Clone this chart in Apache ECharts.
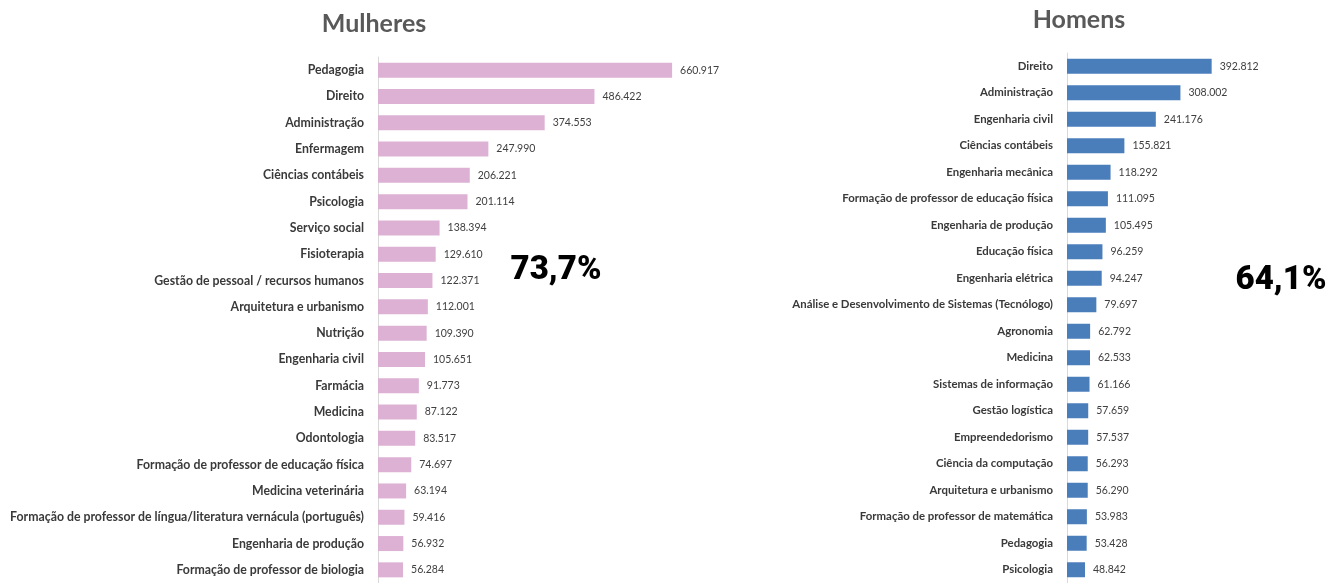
<!DOCTYPE html>
<html>
<head>
<meta charset="utf-8">
<script src="https://cdn.jsdelivr.net/npm/echarts@6/dist/echarts.min.js"></script>
<style>
  html, body { margin: 0; padding: 0; background: #fff; }
  #main { width: 1338px; height: 583px; }
</style>
</head>
<body>
<div id="main"></div>
<script>
// Mulheres
var cursosMulheres = ['Pedagogia', 'Direito', 'Administração', 'Enfermagem', 'Ciências contábeis',
    'Psicologia', 'Serviço social', 'Fisioterapia', 'Gestão de pessoal / recursos humanos',
    'Arquitetura e urbanismo', 'Nutrição', 'Engenharia civil', 'Farmácia', 'Medicina', 'Odontologia',
    'Formação de professor de educação física', 'Medicina veterinária',
    'Formação de professor de língua/literatura vernácula (português)', 'Engenharia de produção',
    'Formação de professor de biologia'];
var valoresMulheres = [660917, 486422, 374553, 247990, 206221, 201114, 138394, 129610, 122371, 112001,
    109390, 105651, 91773, 87122, 83517, 74697, 63194, 59416, 56932, 56284];

// Homens
var cursosHomens = ['Direito', 'Administração', 'Engenharia civil', 'Ciências contábeis', 'Engenharia mecânica',
    'Formação de professor de educação física', 'Engenharia de produção', 'Educação física',
    'Engenharia elétrica', 'Análise e Desenvolvimento de Sistemas (Tecnólogo)', 'Agronomia', 'Medicina',
    'Sistemas de informação', 'Gestão logística', 'Empreendedorismo', 'Ciência da computação',
    'Arquitetura e urbanismo', 'Formação de professor de matemática', 'Pedagogia', 'Psicologia'];
var valoresHomens = [392812, 308002, 241176, 155821, 118292, 111095, 105495, 96259, 94247, 79697,
    62792, 62533, 61166, 57659, 57537, 56293, 56290, 53983, 53428, 48842];

var titulos = ['Mulheres', 'Homens'];
var percentuais = ['73,7%', '64,1%'];

var fonte = 'Lato, "Open Sans", sans-serif';

function formata(v) {
    return String(v).replace(/\B(?=(\d{3})+(?!\d))/g, '.');
}

function eixoY(cats, idx, tam) {
    return {
        type: 'category', gridIndex: idx, data: cats, inverse: true,
        axisLine: { show: true, lineStyle: { color: '#d9d9d9', width: 1 } },
        axisTick: { show: false },
        axisLabel: { color: '#3a3a3a', fontFamily: fonte, fontWeight: 'bold', fontSize: tam, margin: 14 }
    };
}

function serie(vals, idx, cor) {
    return {
        type: 'bar', xAxisIndex: idx, yAxisIndex: idx, data: vals, barWidth: 15,
        itemStyle: { color: cor },
        label: {
            show: true, position: 'right', distance: 8, color: '#404040',
            fontFamily: fonte, fontSize: 10.5,
            formatter: function (p) { return formata(p.value); }
        }
    };
}

var option = {
    animation: false,
    backgroundColor: '#fff',
    grid: [
        { left: 378, top: 57, width: 311.5, height: 529.4 },
        { left: 1067, top: 53, width: 257.8, height: 532 }
    ],
    xAxis: [
        { type: 'value', gridIndex: 0, min: 0, max: 700000, show: false },
        { type: 'value', gridIndex: 1, min: 0, max: 700000, show: false }
    ],
    yAxis: [eixoY(cursosMulheres, 0, 12.3), eixoY(cursosHomens, 1, 11.4)],
    series: [serie(valoresMulheres, 0, '#ddb1d4'), serie(valoresHomens, 1, '#4a7ebb')],
    graphic: [
        { type: 'text', x: 374, y: 24, style: { text: titulos[0], fill: '#595959', font: 'bold 25px ' + fonte, textAlign: 'center', textVerticalAlign: 'middle' } },
        { type: 'text', x: 1079, y: 20, style: { text: titulos[1], fill: '#595959', font: 'bold 25px ' + fonte, textAlign: 'center', textVerticalAlign: 'middle' } },
        { type: 'text', x: 556, y: 271, style: { text: percentuais[0], fill: '#000', font: '900 33px Roboto, sans-serif', textAlign: 'center', textVerticalAlign: 'middle' } },
        { type: 'text', x: 1281, y: 281, style: { text: percentuais[1], fill: '#000', font: '900 33px Roboto, sans-serif', textAlign: 'center', textVerticalAlign: 'middle' } }
    ]
};

echarts.init(document.getElementById('main')).setOption(option);
</script>
</body>
</html>
